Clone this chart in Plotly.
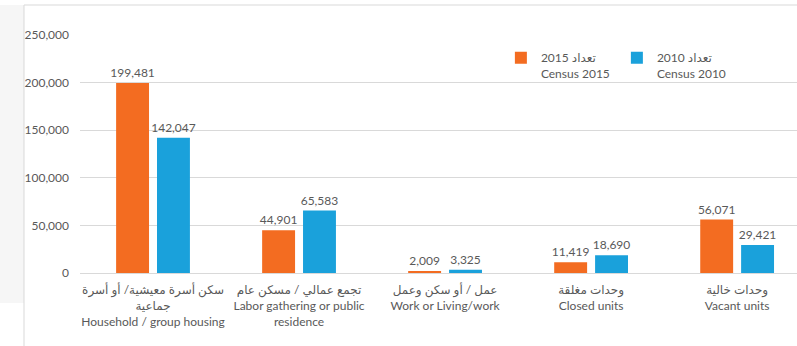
import plotly.graph_objects as go

categories = [
    "سكن أسرة معيشية/ أو أسرة<br>جماعية<br>Household / group housing",
    "تجمع عمالي / مسكن عام<br>Labor gathering or public<br>residence",
    "عمل / أو سكن وعمل<br>Work or Living/work",
    "وحدات مغلقة<br>Closed units",
    "وحدات خالية<br>Vacant units",
]
census_2015 = [199481, 44901, 2009, 11419, 56071]
census_2010 = [142047, 65583, 3325, 18690, 29421]
series_names = ["تعداد 2015<br>Census 2015", "تعداد 2010<br>Census 2010"]
y_ticks = [0, 50000, 100000, 150000, 200000, 250000]

TEXT = '#595959'
GRID = '#d9d9d9'
FONT = 'Lato, DejaVu Sans, sans-serif'

x = list(range(len(categories)))

fig = go.Figure()
for name, vals, color in [(series_names[0], census_2015, '#f36c21'),
                          (series_names[1], census_2010, '#1aa1db')]:
    fig.add_trace(go.Bar(
        x=x, y=vals, name=name,
        marker=dict(color=color, line=dict(width=0)),
        texttemplate='%{y:,}', textposition='outside', constraintext='none',
        textfont=dict(color=TEXT, size=12, family=FONT),
        cliponaxis=False,
    ))

fig.update_layout(
    width=797, height=346,
    paper_bgcolor='white', plot_bgcolor='white',
    font=dict(family=FONT, color=TEXT, size=12),
    margin=dict(l=80, r=0, t=35, b=73),
    barmode='group', bargap=0.44, bargroupgap=0.195,
    showlegend=True,
    legend=dict(
        orientation='h', x=0.587, y=0.965, xanchor='left', yanchor='top',
        valign='top', entrywidth=71, entrywidthmode='pixels',
        font=dict(size=12, color=TEXT), bgcolor='rgba(0,0,0,0)',
        traceorder='normal',
    ),
    xaxis=dict(
        tickmode='array', tickvals=x, ticktext=categories, tickangle=0,
        automargin=False, ticklabelstandoff=6,
        range=[-0.5, 4.41], showgrid=False, showline=True,
        linecolor=GRID, linewidth=1, ticks='', zeroline=False,
        tickfont=dict(size=12, color=TEXT),
    ),
    yaxis=dict(
        range=[0, 250000], tickvals=y_ticks, tickformat=',', automargin=False,
        showgrid=True, gridcolor=GRID, gridwidth=1, zeroline=False,
        ticks='', ticklabelstandoff=10, tickfont=dict(size=12, color=TEXT),
    ),
    shapes=[
        dict(type='rect', xref='paper', yref='paper', x0=-80/717, x1=-56/717,
             y0=-30/238, y1=268/238, fillcolor='#f6f6f6', line=dict(width=0),
             layer='below'),
        dict(type='line', xref='paper', yref='paper', x0=-56/717, x1=-56/717,
             y0=-73/238, y1=268/238, line=dict(color=GRID, width=1)),
        dict(type='line', xref='paper', yref='paper', x0=-56/717, x1=1,
             y0=268/238, y1=268/238, line=dict(color=GRID, width=1)),
    ],
)

# page has a default 8px body margin; drop it so the chart sits at the corner
fig.write_html("out.html", config={'displayModeBar': False},
               post_script="document.body.style.margin='0';")
